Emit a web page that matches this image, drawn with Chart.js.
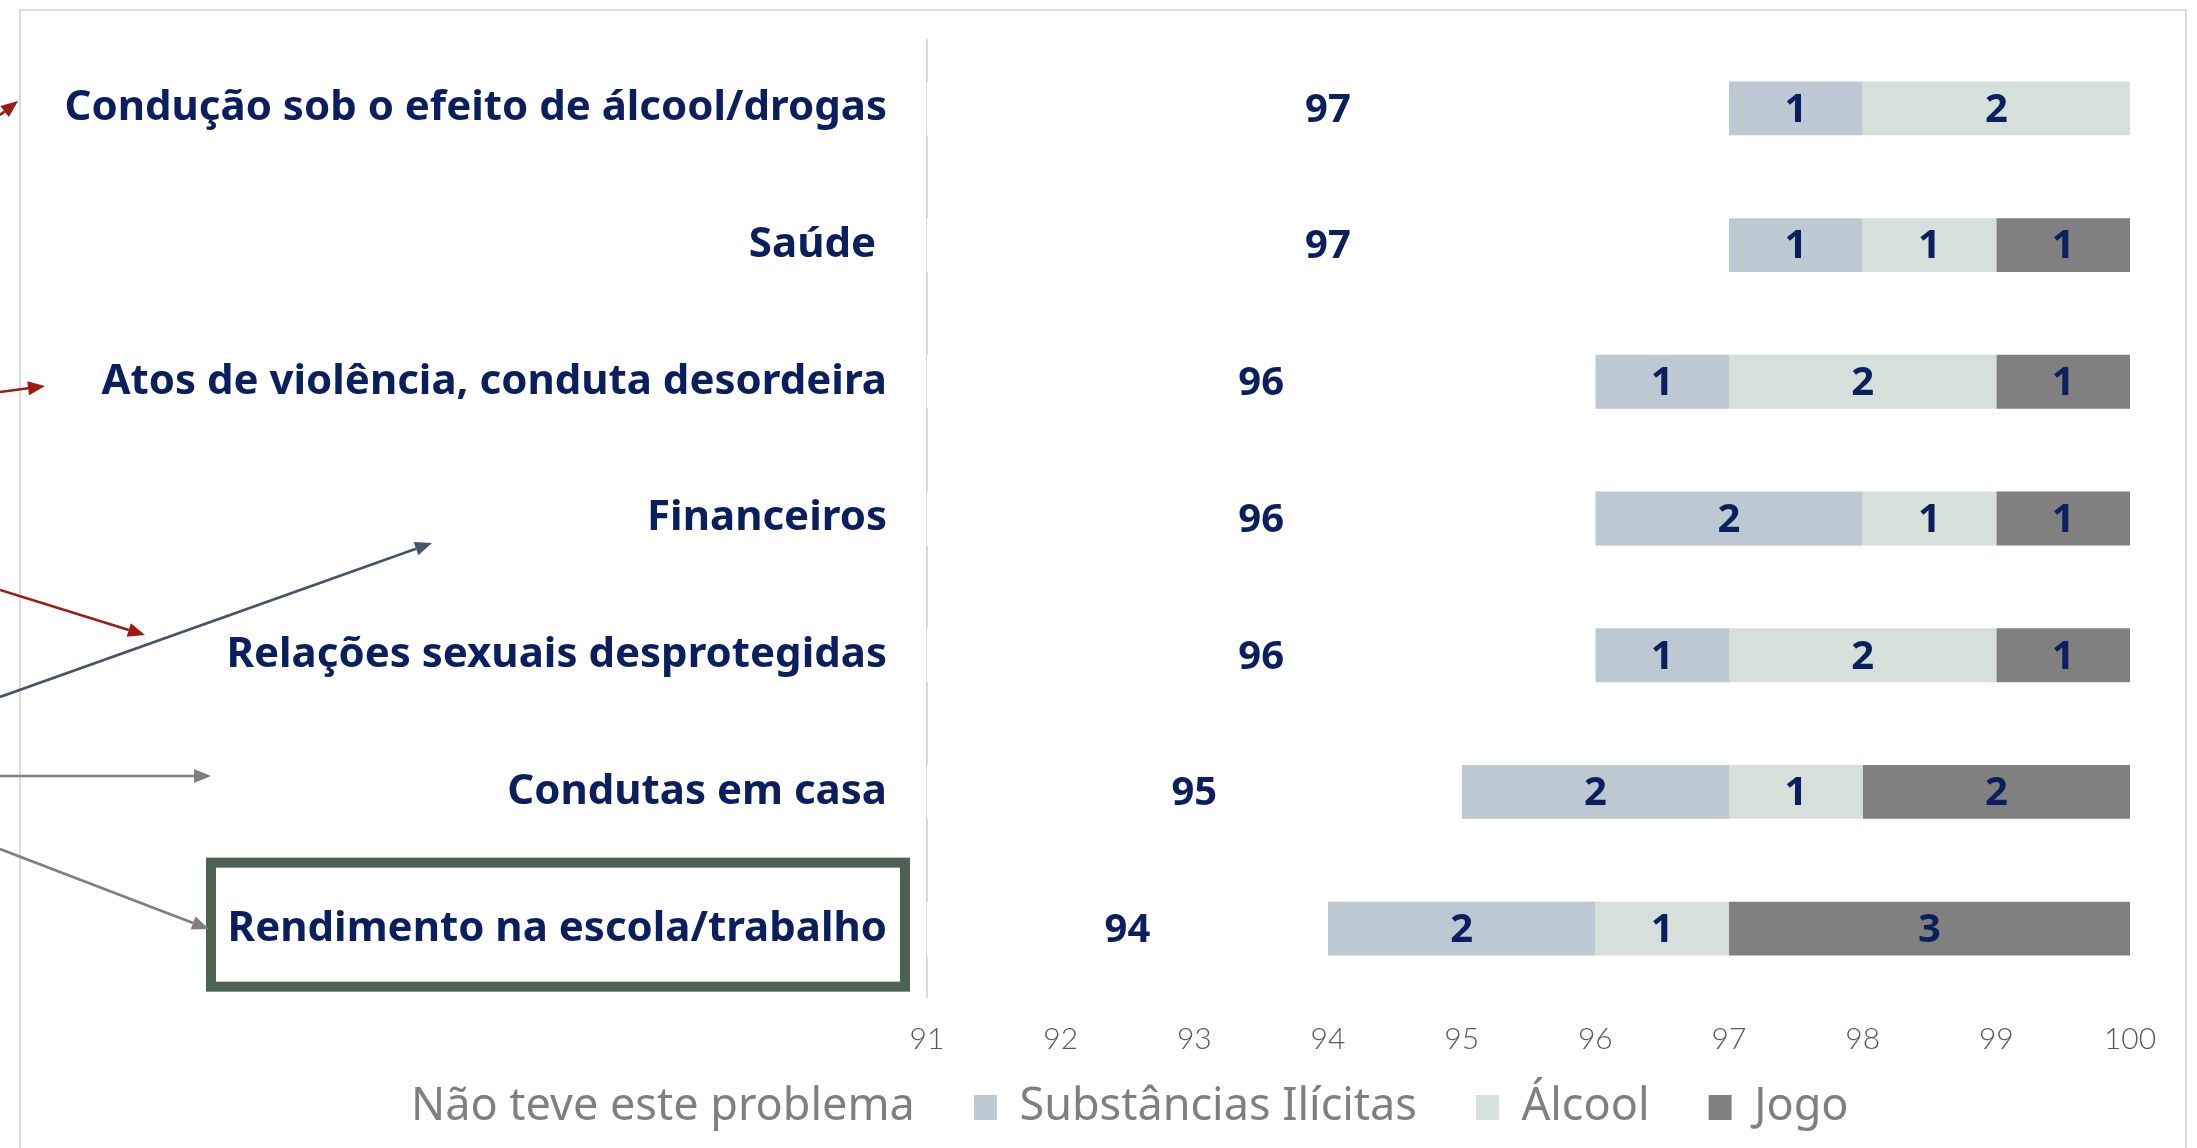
<!DOCTYPE html>
<html>
<head>
<meta charset="utf-8">
<script src="https://cdn.jsdelivr.net/npm/chart.js@4.4.1/dist/chart.umd.min.js"></script>
<style>
  html, body { margin: 0; padding: 0; background: #fff; }
  #wrap { width: 2197px; height: 1148px; }
</style>
</head>
<body>
<div id="wrap"><canvas id="chart" width="2197" height="1148"></canvas></div>
<script>
const categories = [
  "Condução sob o efeito de álcool/drogas",
  "Saúde ",
  "Atos de violência, conduta desordeira",
  "Financeiros",
  "Relações sexuais desprotegidas",
  "Condutas em casa",
  "Rendimento na escola/trabalho",
];
const seriesNames = ["Não teve este problema", "Substâncias Ilícitas", "Álcool", "Jogo"];
const naoTeve = [97, 97, 96, 96, 96, 95, 94];
const substancias = [1, 1, 1, 2, 1, 2, 2];
const alcool = [2, 1, 2, 1, 2, 1, 1];
const jogo = [0, 1, 1, 1, 1, 2, 3];
const xMin = 91;
const xMax = 100;

const NAVY = "#0B1F5E";
const FONT = '"Noto Sans", "DejaVu Sans", sans-serif';
const colors = ["#FFFFFF", "#BCC8D2", "#D6E0DA", "#808080"];

// annotation arrows coming in from the left edge
const arrows = [
  { from: [0, 115], to: [18, 101], color: "#9E1B12" },
  { from: [0, 392], to: [45, 386], color: "#9E1B12" },
  { from: [0, 590], to: [145, 635], color: "#9E1B12" },
  { from: [0, 697], to: [432, 543], color: "#44546A" },
  { from: [0, 776], to: [211, 776], color: "#7F7F7F" },
  { from: [0, 849], to: [209, 929], color: "#7F7F7F" },
];

function drawArrow(ctx, a) {
  const [x1, y1] = a.from;
  const [x2, y2] = a.to;
  const ang = Math.atan2(y2 - y1, x2 - x1);
  const len = 17, half = 7;
  const bx = x2 - len * Math.cos(ang);
  const by = y2 - len * Math.sin(ang);
  ctx.strokeStyle = a.color;
  ctx.fillStyle = a.color;
  ctx.lineWidth = 2.6;
  ctx.beginPath();
  ctx.moveTo(x1, y1);
  ctx.lineTo(bx, by);
  ctx.stroke();
  ctx.beginPath();
  ctx.moveTo(x2, y2);
  ctx.lineTo(bx + half * Math.sin(ang), by - half * Math.cos(ang));
  ctx.lineTo(bx - half * Math.sin(ang), by + half * Math.cos(ang));
  ctx.closePath();
  ctx.fill();
}

const decorations = {
  id: "decorations",
  afterLayout(chart) {
    // the original legend sits a bit right of centre
    chart.legend.left += 42;
    chart.legend.right += 42;
  },
  beforeDraw(chart) {
    const ctx = chart.ctx;
    ctx.save();
    ctx.fillStyle = "#fff";
    ctx.fillRect(0, 0, chart.width, chart.height);
    ctx.strokeStyle = "#DCDCDC";
    ctx.lineWidth = 2;
    ctx.strokeRect(20, 10, 2166, 1200);
    ctx.restore();
  },
  afterDraw(chart) {
    const ctx = chart.ctx;
    const yc = chart.scales.y.getPixelForValue(categories.length - 1);
    ctx.save();
    ctx.strokeStyle = "#4B6254";
    ctx.lineWidth = 10;
    ctx.strokeRect(211, yc - 66, 694, 124);
    arrows.forEach((a) => drawArrow(ctx, a));
    ctx.restore();
  },
};

const segmentLabels = {
  id: "segmentLabels",
  afterDatasetsDraw(chart) {
    const { ctx, chartArea } = chart;
    ctx.save();
    ctx.font = `bold 40px ${FONT}`;
    ctx.fillStyle = NAVY;
    ctx.textAlign = "center";
    ctx.textBaseline = "middle";
    chart.data.datasets.forEach((ds, i) => {
      chart.getDatasetMeta(i).data.forEach((bar, j) => {
        const v = ds.data[j];
        if (!v) return;
        const { x, base, y } = bar.getProps(["x", "base", "y"], true);
        const left = Math.max(Math.min(x, base), chartArea.left);
        const right = Math.min(Math.max(x, base), chartArea.right);
        ctx.fillText(String(v), (left + right) / 2, y + 2);
      });
    });
    ctx.restore();
  },
};

const seriesData = [naoTeve, substancias, alcool, jogo];

new Chart(document.getElementById("chart"), {
  type: "bar",
  data: {
    labels: categories,
    datasets: seriesNames.map((name, i) => ({
      label: name,
      data: seriesData[i],
      backgroundColor: colors[i],
      borderWidth: 0,
      categoryPercentage: 1,
      barPercentage: 0.394,
    })),
  },
  options: {
    indexAxis: "y",
    responsive: false,
    animation: false,
    devicePixelRatio: 1,
    layout: { padding: { top: 40, right: 67, left: 0, bottom: 8 } },
    plugins: {
      legend: {
        position: "bottom",
        labels: {
          color: "#7F7F7F",
          font: { family: FONT, size: 45 },
          boxWidth: 23,
          boxHeight: 25,
          padding: 24,
          // wider gap after each item, as in the original legend
          generateLabels: (chart) =>
            Chart.defaults.plugins.legend.labels.generateLabels(chart).map((item, i, all) => ({
              ...item,
              text: i < all.length - 1 ? item.text + "   " : item.text,
            })),
        },
      },
      tooltip: { enabled: false },
    },
    scales: {
      x: {
        stacked: true,
        min: xMin,
        max: xMax,
        grid: { display: false, drawTicks: false },
        border: { display: false },
        ticks: {
          stepSize: 1,
          color: "#595959",
          font: { family: '"Lato", "Open Sans", sans-serif', size: 30, weight: 300 },
          padding: 24,
        },
        afterFit: (s) => { s.height = 64; },
      },
      y: {
        stacked: true,
        grid: { display: false, drawTicks: false },
        border: { display: true, color: "#D9D9D9", width: 2 },
        ticks: {
          color: NAVY,
          font: { family: FONT, size: 42, weight: "bold" },
          padding: 40,
        },
        afterFit: (s) => {
          s.width = 927;
          s.paddingTop = 0;
          s.paddingBottom = 0;
        },
      },
    },
  },
  plugins: [decorations, segmentLabels],
});
</script>
</body>
</html>
